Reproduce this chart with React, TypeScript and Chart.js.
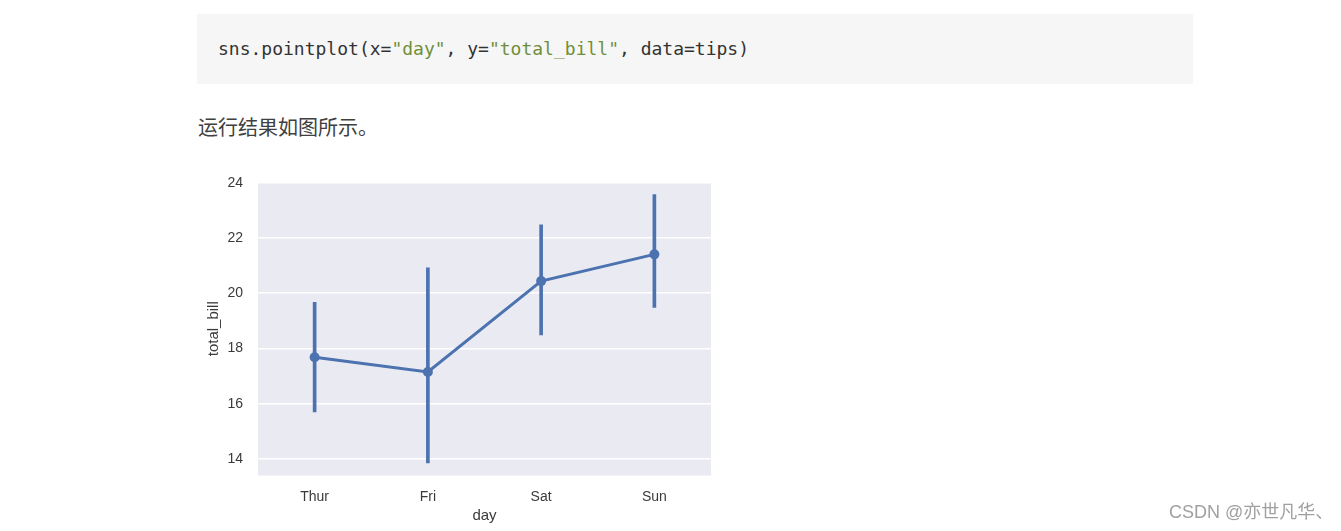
import React, { useEffect, useRef } from "react";
import { Chart, registerables } from "chart.js";

Chart.register(...registerables);

// ---- data ----
const categories = ["Thur", "Fri", "Sat", "Sun"];
const meanBill = [17.68, 17.15, 20.44, 21.41];
const ciLow = [15.7, 13.86, 18.49, 19.49];
const ciHigh = [19.67, 20.92, 22.48, 23.57];
const yTicks = [14, 16, 18, 20, 22, 24];
const yMin = 13.4;
const yMax = 24.03;

const BLUE = "#4c72b0";
const TEXT = "#3a3a3a";

const plotBackground = {
  id: "plotBackground",
  beforeDraw(chart: any) {
    const { ctx, chartArea: a } = chart;
    ctx.save();
    ctx.fillStyle = "#eaeaf2";
    ctx.fillRect(a.left, a.top, a.right - a.left, a.bottom - a.top);
    ctx.restore();
  },
};

function PointPlot() {
  const ref = useRef<HTMLCanvasElement | null>(null);
  useEffect(() => {
    if (!ref.current) return;
    const chart = new Chart(ref.current, {
      data: {
        labels: categories,
        datasets: [
          {
            type: "line",
            data: meanBill,
            borderColor: BLUE,
            backgroundColor: BLUE,
            borderWidth: 3,
            pointRadius: 5,
            pointBorderWidth: 0,
            pointBackgroundColor: BLUE,
            order: 0,
          } as any,
          {
            type: "bar",
            data: ciLow.map((l, i) => [l, ciHigh[i]]),
            backgroundColor: BLUE,
            borderWidth: 0,
            barThickness: 3,
            grouped: false,
            order: 1,
          } as any,
        ],
      },
      options: {
        responsive: false,
        animation: false,
        devicePixelRatio: 1,
        layout: { padding: { left: 200, right: 630, top: 182, bottom: 0 } },
        plugins: { legend: { display: false }, tooltip: { enabled: false } },
        scales: {
          x: {
            type: "category",
            offset: true,
            grid: { display: false },
            border: { display: false },
            ticks: {
              color: TEXT,
              font: { family: "Liberation Sans, Arial, sans-serif", size: 14 },
              padding: 5,
            },
            title: {
              display: true,
              text: "day",
              color: TEXT,
              font: { family: "Liberation Sans, Arial, sans-serif", size: 15 },
              padding: { top: 0, bottom: 6 },
            },
            afterFit(scale: any) {
              scale.height = 55.5;
            },
          },
          y: {
            type: "linear",
            min: yMin,
            max: yMax,
            afterBuildTicks(scale: any) {
              scale.ticks = yTicks.map((v) => ({ value: v }));
            },
            grid: { color: "#ffffff", lineWidth: 1.6, drawTicks: false },
            border: { display: false },
            ticks: {
              color: TEXT,
              font: { family: "Liberation Sans, Arial, sans-serif", size: 14 },
              padding: 15,
            },
            title: {
              display: true,
              text: "total_bill",
              color: TEXT,
              font: { family: "Liberation Sans, Arial, sans-serif", size: 15 },
              padding: { top: 5, bottom: 0 },
            },
            afterFit(scale: any) {
              scale.width = 58;
            },
          },
        },
      },
      plugins: [plotBackground],
    });
    return () => chart.destroy();
  }, []);
  return (
    <canvas
      ref={ref}
      width={1341}
      height={531}
      style={{ position: "absolute", left: 0, top: 0, width: 1341, height: 531 }}
    />
  );
}

export default function App() {
  const mono = "'DejaVu Sans Mono', monospace";
  return (
    <div style={{ position: "absolute", left: 0, top: 0, width: 1341, height: 531, background: "#ffffff", overflow: "hidden" }}>
      <div
        style={{
          position: "absolute",
          left: 197,
          top: 14,
          width: 996,
          height: 70,
          background: "#f6f6f6",
        }}
      />
      <div
        style={{
          position: "absolute",
          left: 218,
          top: 40,
          fontFamily: mono,
          fontSize: 18,
          lineHeight: "18px",
          color: "#333333",
          whiteSpace: "pre",
        }}
      >
        sns.pointplot(x=<span style={{ color: "#6f8f3a" }}>"day"</span>, y=
        <span style={{ color: "#6f8f3a" }}>"total_bill"</span>, data=tips)
      </div>
      <div
        style={{
          position: "absolute",
          left: 198,
          top: 117,
          fontFamily: "'Noto Sans CJK SC', sans-serif",
          fontSize: 20,
          lineHeight: "20px",
          color: "#404040",
          whiteSpace: "pre",
        }}
      >
        运行结果如图所示。
      </div>
      <PointPlot />
      <div
        style={{
          position: "absolute",
          left: 1169,
          top: 502,
          fontFamily: "'Liberation Sans', 'Noto Sans CJK SC', sans-serif",
          fontSize: 18,
          lineHeight: "20px",
          color: "#a0a0a0",
          whiteSpace: "pre",
        }}
      >
        CSDN @亦世凡华、
      </div>
    </div>
  );
}
